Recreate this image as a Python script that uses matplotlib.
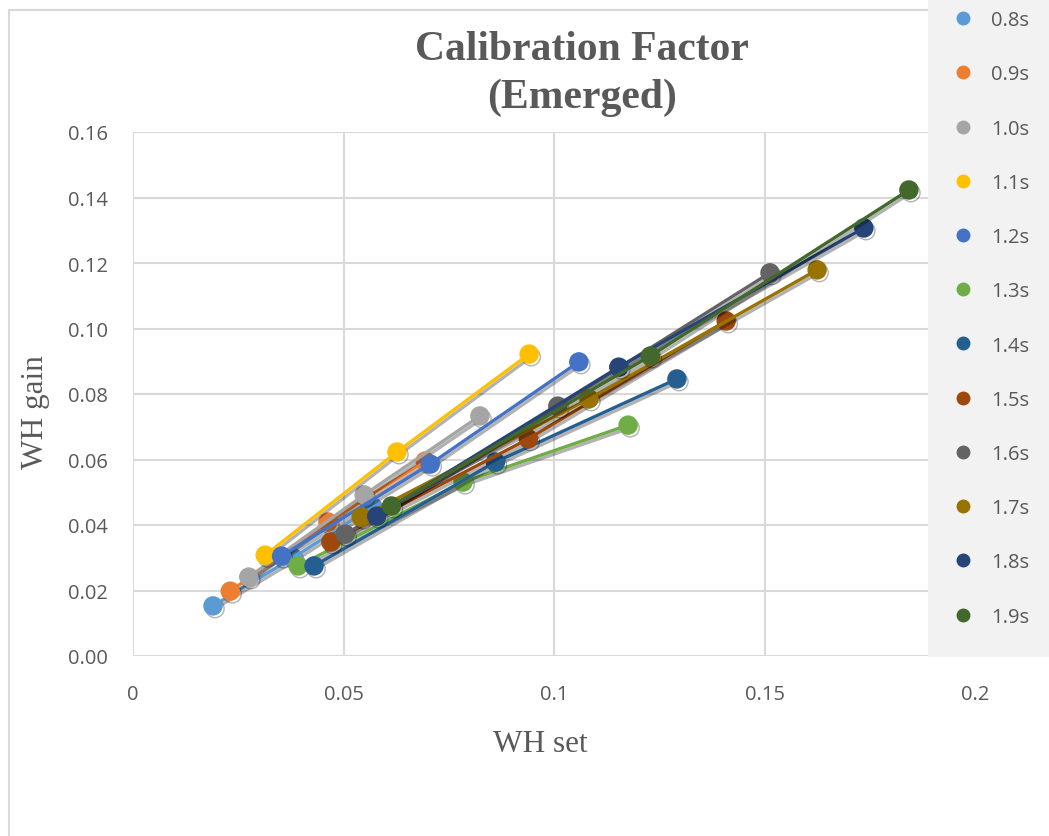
import matplotlib
matplotlib.use("Agg")
from matplotlib import pyplot as plt
from matplotlib.lines import Line2D
from matplotlib.patches import Rectangle
import matplotlib.patheffects as pe

labels = ['0.8s', '0.9s', '1.0s', '1.1s', '1.2s', '1.3s',
          '1.4s', '1.5s', '1.6s', '1.7s', '1.8s', '1.9s']
colors = ['#5B9BD5', '#ED7D31', '#A5A5A5', '#FFC000', '#4472C4', '#70AD47',
          '#255E91', '#9E480E', '#636363', '#997300', '#264478', '#43682B']

# WH set / WH gain, three points per wave period
wh_set = [
    [0.0190, 0.0380, 0.0570],
    [0.0231, 0.0463, 0.0694],
    [0.0275, 0.0549, 0.0824],
    [0.0314, 0.0627, 0.0941],
    [0.0353, 0.0706, 0.1059],
    [0.0392, 0.0784, 0.1176],
    [0.0430, 0.0861, 0.1292],
    [0.0470, 0.0939, 0.1409],
    [0.0504, 0.1009, 0.1513],
    [0.0542, 0.1083, 0.1625],
    [0.0579, 0.1154, 0.1736],
    [0.0614, 0.1229, 0.1843],
]
wh_gain = [
    [0.0153, 0.0300, 0.0455],
    [0.0198, 0.0409, 0.0595],
    [0.0241, 0.0492, 0.0733],
    [0.0308, 0.0623, 0.0922],
    [0.0305, 0.0586, 0.0898],
    [0.0275, 0.0531, 0.0705],
    [0.0275, 0.0592, 0.0846],
    [0.0348, 0.0663, 0.1023],
    [0.0372, 0.0763, 0.1170],
    [0.0424, 0.0785, 0.1179],
    [0.0427, 0.0882, 0.1307],
    [0.0458, 0.0916, 0.1423],
]

W, H = 1049, 837
fig = plt.figure(figsize=(W / 100, H / 100), dpi=100)

# chart border (left and top edges)
fig.add_artist(Line2D([8.5 / W, 8.5 / W, 1], [0, 1 - 10.5 / H, 1 - 10.5 / H],
                      transform=fig.transFigure, color='#D9D9D9', lw=1.5, zorder=0))

ax = fig.add_axes([133 / W, 1 - 657 / H, (975 - 133) / W, (657 - 133) / H])
ax.patch.set_alpha(0)
shadow = [pe.SimpleLineShadow(offset=(1.5, -2), shadow_color='black', alpha=0.3), pe.Normal()]
for xs, ys, c in zip(wh_set, wh_gain, colors):
    ax.plot(xs, ys, color=c, lw=2.4, marker='o', markersize=13,
            markeredgecolor=c, solid_capstyle='round', path_effects=shadow, zorder=3)

ax.set_xlim(0, 0.2)
ax.set_ylim(0, 0.16)
ax.set_xticks([0, 0.05, 0.1, 0.15, 0.2])
ax.set_xticklabels(['0', '0.05', '0.1', '0.15', '0.2'])
ax.set_yticks([0.00, 0.02, 0.04, 0.06, 0.08, 0.10, 0.12, 0.14, 0.16])
ax.set_yticklabels([f'{v:.2f}' for v in ax.get_yticks()])
ax.grid(True, color='#D9D9D9', lw=1.5)
ax.set_axisbelow(True)
for s in ax.spines.values():
    s.set_visible(False)
ax.tick_params(length=0, labelsize=14.5, labelcolor='#595959')
ax.tick_params(axis='x', pad=20)
ax.tick_params(axis='y', pad=18)
for t in ax.get_xticklabels() + ax.get_yticklabels():
    t.set_fontfamily('Open Sans')

ax.set_xlabel('WH set', fontfamily='Liberation Serif', fontsize=22.5, color='#595959')
ax.set_ylabel('WH gain', fontfamily='Liberation Serif', fontsize=22.5, color='#595959')
ax.xaxis.set_label_coords((540 - 133) / (975 - 133), -(745 - 657) / (657 - 133))
ax.yaxis.set_label_coords(-(133 - 36) / (975 - 133), (657 - 412) / (657 - 133))
ax.xaxis.label.set_va('center')
ax.yaxis.label.set_va('center')

fig.text(582 / W, 1 - 74 / H, 'Calibration Factor\n(Emerged)', ha='center', va='center',
         fontfamily='Liberation Serif', fontweight='bold', fontsize=30, color='#595959',
         linespacing=1.3)

# legend panel
fig.patches.append(Rectangle((928 / W, 1 - 658 / H), (W - 928) / W, 658 / H + 0.01,
                             transform=fig.transFigure, facecolor='#F2F2F2', edgecolor='none', zorder=5))
handles = [Line2D([], [], color=c, marker='o', linestyle='none', markersize=9) for c in colors]
leg = fig.legend(handles, labels, loc='upper left', bbox_to_anchor=(925 / W, 1 + 7 / H),
                 frameon=False, labelspacing=1.7, handletextpad=0.4,
                 prop={'family': 'Open Sans', 'size': 14.5})
leg.set_zorder(6)
for t in leg.get_texts():
    t.set_color('#595959')

fig.savefig('out.png', dpi=100)
